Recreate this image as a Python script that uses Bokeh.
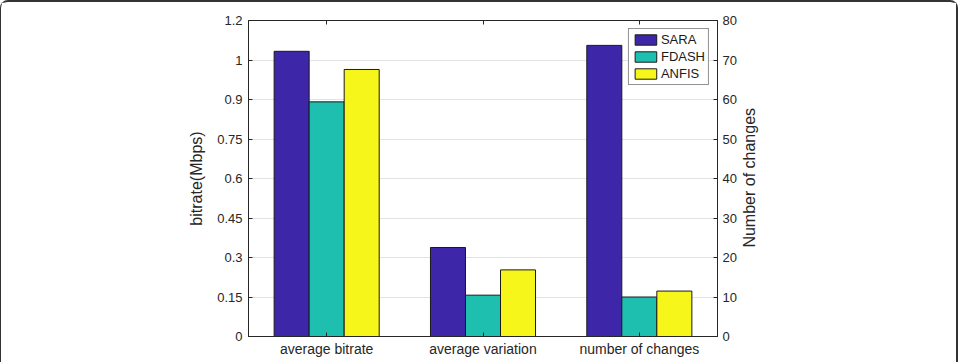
import math
from bokeh.plotting import figure
from bokeh.models import (ColumnDataSource, Range1d, LinearAxis, FixedTicker,
                          Legend, LegendItem)
from bokeh.transform import dodge
from bokeh.embed import file_html
from bokeh.resources import INLINE

# ---- data ----
categories = ["average bitrate", "average variation", "number of changes"]
sara = [1.083, 0.338, 73.7]
fdash = [0.891, 0.157, 10.0]
anfis = [1.014, 0.253, 11.5]
left_ticks = [0, 0.15, 0.3, 0.45, 0.6, 0.75, 0.9, 1.05, 1.2]
left_tick_labels = ["0", "0.15", "0.3", "0.45", "0.6", "0.75", "0.9", "1", "1.2"]
right_ticks = [0, 10, 20, 30, 40, 50, 60, 70, 80]

series = [("SARA", sara, "#3E26A8"), ("FDASH", fdash, "#1FBFB0"), ("ANFIS", anfis, "#F7F61A")]

FONT = "Liberation Sans"
AX = "#262626"

p = figure(width=958, height=362, output_backend="svg", toolbar_location=None,
           x_range=Range1d(0.5, 3.5), y_range=Range1d(0, 1.2),
           min_border_left=247, min_border_right=242, min_border_top=18, min_border_bottom=28)
p.extra_y_ranges = {"changes": Range1d(0, 80)}
p.outline_line_color = AX
p.background_fill_color = "white"
p.border_fill_color = "white"
p.styles = {"border-top": "2px solid #333333", "border-right": "2px solid #333333",
            "border-left": "1px solid #333333",
            "border-top-left-radius": "8px", "border-top-right-radius": "8px"}

xs = [1, 2, 3]
bw = 0.224
offsets = [-bw, 0, bw]
legend_items = []
for (name, vals, col), off in zip(series, offsets):
    src_l = ColumnDataSource(dict(x=xs[:2], top=vals[:2]))
    src_r = ColumnDataSource(dict(x=xs[2:], top=vals[2:]))
    r1 = p.vbar(x=dodge("x", off), top="top", bottom=0, width=bw, source=src_l,
                fill_color=col, line_color="#1a1a1a", line_width=1)
    p.vbar(x=dodge("x", off), top="top", bottom=0, width=bw, source=src_r,
           y_range_name="changes", fill_color=col, line_color="#1a1a1a", line_width=1)
    legend_items.append(LegendItem(label=name, renderers=[r1]))

# x axis
xa = p.xaxis[0]
xa.ticker = FixedTicker(ticks=xs)
xa.major_label_overrides = {i + 1: c for i, c in enumerate(categories)}
xa.minor_tick_line_color = None
xa.major_tick_in = 4
xa.major_tick_out = 0
xa.axis_line_color = AX
xa.major_tick_line_color = AX
xa.major_label_text_font = FONT
xa.major_label_text_font_size = "14px"
xa.major_label_text_color = AX
xa.major_label_standoff = 4

# left axis
ya = p.yaxis[0]
ya.ticker = FixedTicker(ticks=left_ticks)
ya.major_label_overrides = {t: l for t, l in zip(left_ticks, left_tick_labels)}
ya.minor_tick_line_color = None
ya.major_tick_in = 4
ya.major_tick_out = 0
ya.axis_line_color = AX
ya.major_tick_line_color = AX
ya.major_label_text_font = FONT
ya.major_label_text_font_size = "13px"
ya.major_label_text_color = AX
ya.major_label_standoff = 6
ya.axis_label = "bitrate(Mbps)"
ya.axis_label_text_font = FONT
ya.axis_label_text_font_size = "16px"
ya.axis_label_text_font_style = "normal"
ya.axis_label_text_color = AX
ya.axis_label_standoff = 9

# right axis
ra = LinearAxis(y_range_name="changes", ticker=FixedTicker(ticks=right_ticks))
ra.minor_tick_line_color = None
ra.major_tick_in = 4
ra.major_tick_out = 0
ra.axis_line_color = AX
ra.major_tick_line_color = AX
ra.major_label_text_font = FONT
ra.major_label_text_font_size = "13px"
ra.major_label_text_color = AX
ra.major_label_standoff = 5
ra.axis_label_text_font = FONT
ra.axis_label_text_font_size = "16px"
ra.axis_label_text_font_style = "normal"
ra.axis_label_text_color = AX
ra.axis_label_standoff = 10
props = ra.properties()
if "axis_label_orientation" in props and "axis_label_align" in props:
    # label reads bottom-to-top; anchored at the axis start and padded to sit centred
    ra.axis_label_orientation = math.pi / 2
    ra.axis_label_align = "start"
    ra.axis_label = "\u00a0" * 20 + "Number of changes"
elif "axis_label_orientation" in props:
    ra.axis_label_orientation = math.pi / 2
    ra.axis_label = "Number of changes"
else:
    ra.axis_label = "Number of changes"
p.add_layout(ra, "right")

# top axis (ticks only)
ta = LinearAxis(ticker=FixedTicker(ticks=xs), major_tick_in=4, major_tick_out=0,
                minor_tick_line_color=None, axis_line_color=AX,
                major_tick_line_color=AX, major_label_standoff=0,
                major_label_overrides={1: "", 2: "", 3: ""})
p.add_layout(ta, "above")

# grid
p.xgrid.grid_line_color = None
p.ygrid.ticker = FixedTicker(ticks=left_ticks)
p.ygrid.grid_line_color = "#e3e3e3"
p.ygrid.grid_line_width = 1

legend = Legend(items=legend_items, location="top_right")
legend.label_text_font = FONT
legend.label_text_font_size = "13px"
legend.label_text_color = "#1a1a1a"
legend.glyph_width = 27
legend.glyph_height = 13
legend.label_height = 14
legend.label_standoff = 2
legend.spacing = 2
legend.padding = 3
legend.margin = 8
legend.border_line_color = AX
legend.border_line_width = 1
legend.background_fill_alpha = 1
p.add_layout(legend)

open("out.html", "w").write(file_html(p, INLINE))
